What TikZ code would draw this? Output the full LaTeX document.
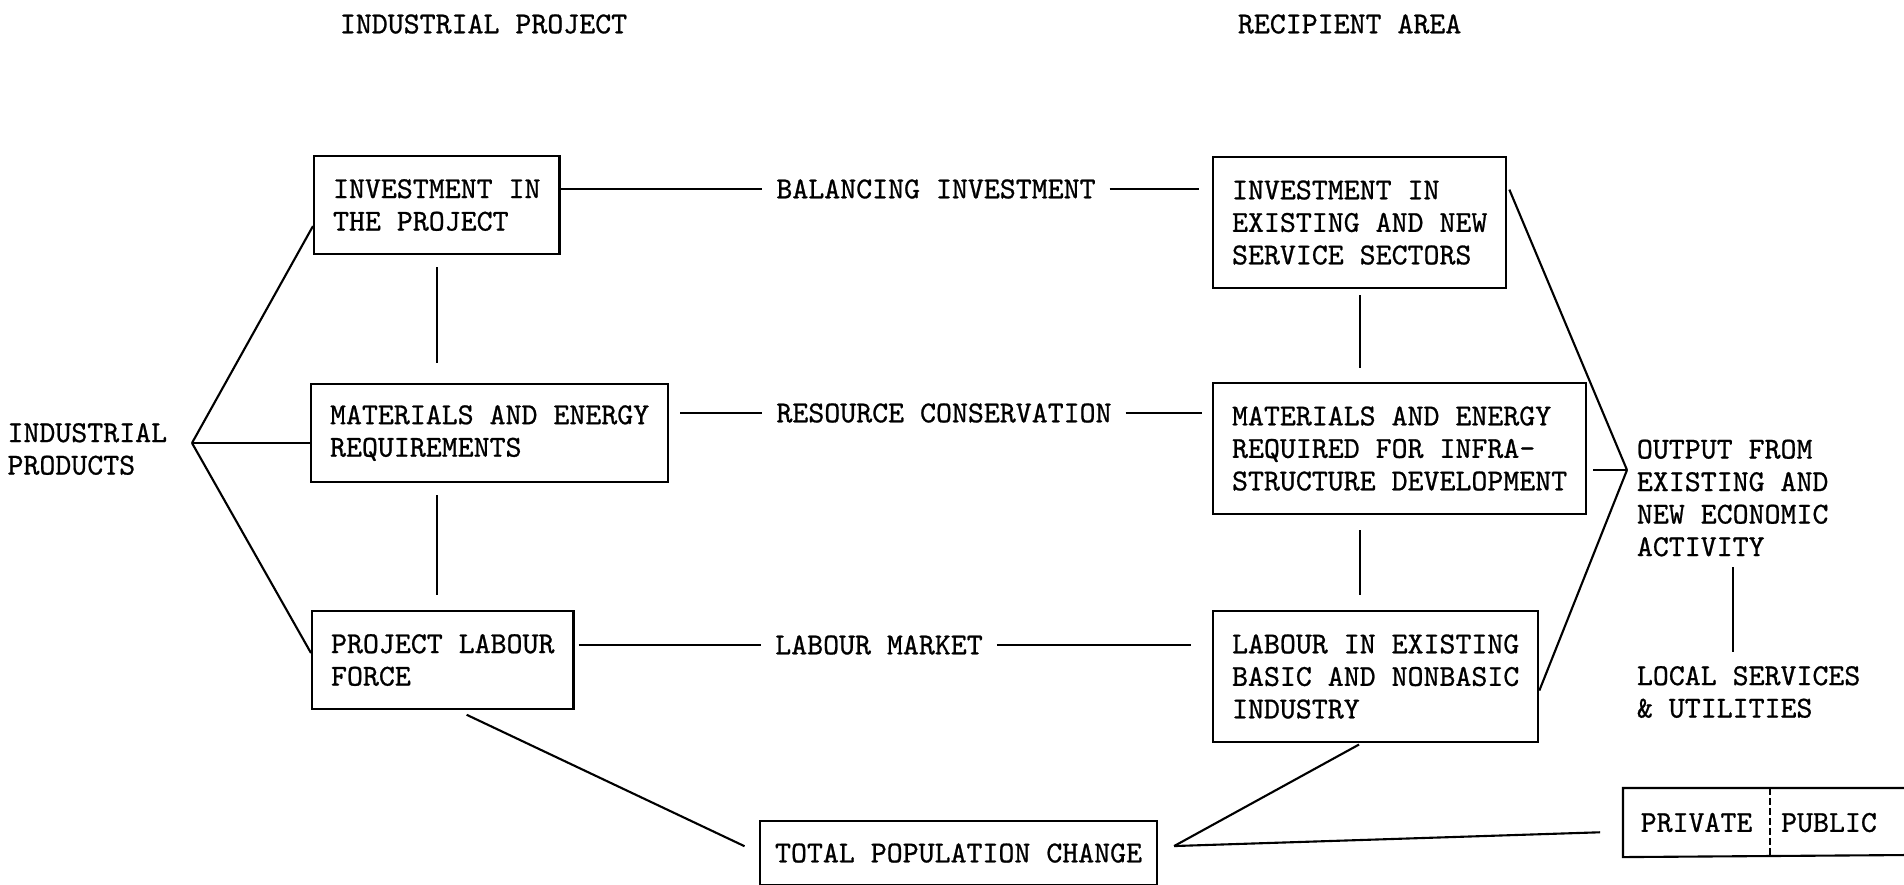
\documentclass[tikz,border=0pt]{standalone}
\usepackage{fontspec}
\setmonofont[FakeBold=0.8]{lmmono10-regular.otf}
\tikzset{every path/.style={line width=1.2pt}, every node/.style={font=\ttfamily\fontsize{17.3}{18.5}\selectfont}}

\begin{document}
\begin{tikzpicture}[x=0.02cm,y=-0.02cm,
   box/.style={draw, anchor=north west, align=left, inner xsep=0.38cm, minimum height=1.96cm},
   tallbox/.style={box, minimum height=2.62cm},
   lbl/.style={inner xsep=0.26cm, inner ysep=0pt}]
   \useasboundingbox (0,0) rectangle (1904,885);

   \node[anchor=west] (hp) at (333,24) {INDUSTRIAL PROJECT};
   \node[anchor=west] (hr) at (1231,24) {RECIPIENT AREA};

   \node[box] (ip) at (313,155) {INVESTMENT IN\\THE PROJECT};
   \node[box] (mp) at (310,383) {MATERIALS AND ENERGY\\REQUIREMENTS};
   \node[box] (lp) at (311,610) {PROJECT LABOUR\\FORCE};
   \node[tallbox] (ir) at (1212,156) {INVESTMENT IN\\EXISTING AND NEW\\SERVICE SECTORS};
   \node[tallbox] (mr) at (1212,382) {MATERIALS AND ENERGY\\REQUIRED FOR INFRA-\\STRUCTURE DEVELOPMENT};
   \node[tallbox] (lr) at (1212,610) {LABOUR IN EXISTING\\BASIC AND NONBASIC\\INDUSTRY};
   \node[draw, anchor=north west, inner xsep=0.3cm, minimum height=1.28cm] (pc) at (759,820) {TOTAL POPULATION CHANGE};

   \node[anchor=east, align=left] (ind) at (174,449) {INDUSTRIAL\\PRODUCTS};
   \coordinate (pj) at (192,443);
   \draw (pj) -- ([yshift=-0.42cm]ip.west);
   \draw (pj) -- (pj -| mp.west);
   \draw (pj) -- ([yshift=0.14cm]lp.west);

   \draw[shorten <=0.24cm, shorten >=0.4cm] (ip.south) -- (ip.south |- mp.north);
   \draw[shorten <=0.24cm, shorten >=0.3cm] (ip.south |- mp.south) -- (ip.south |- lp.north);
   \draw[shorten <=0.12cm, shorten >=0.28cm] (ir.south) -- (ir.south |- mr.north);
   \draw[shorten <=0.3cm, shorten >=0.3cm] (ir.south |- mr.south) -- (ir.south |- lr.north);

   \node[lbl] (bi) at (936,189) {BALANCING INVESTMENT};
   \draw (ip.east |- bi) -- (bi.west);
   \draw[shorten >=0.26cm] (bi.east) -- (ir.west |- bi);
   \node[lbl] (rc) at (944,413) {RESOURCE CONSERVATION};
   \draw[shorten <=0.22cm] (mp.east |- rc) -- (rc.west);
   \draw[shorten >=0.2cm] (rc.east) -- (mr.west |- rc);
   \node[lbl] (lm) at (879,645) {LABOUR MARKET};
   \draw[shorten <=0.08cm] (lp.east |- lm) -- (lm.west);
   \draw[shorten >=0.42cm] (lm.east) -- (lr.west |- lm);

   \node[anchor=west, align=left] (op) at (1630,498) {OUTPUT FROM\\EXISTING AND\\NEW ECONOMIC\\ACTIVITY};
   \node[anchor=west, align=left] (ls) at (1630,692) {LOCAL SERVICES\\\&{} UTILITIES};
   \coordinate (oj) at (1627,470);
   \draw[shorten >=0.1cm] (oj) -- ([yshift=-0.58cm]ir.north east);
   \draw[shorten >=0.12cm] (oj) -- (oj -| mr.east);
   \draw (oj) -- ([yshift=-0.28cm]lr.east);
   \draw[shorten <=0.08cm, shorten >=0.14cm] (op.south) -- (op.south |- ls.north);

   \coordinate (cj) at ([xshift=0.32cm,yshift=0.14cm]pc.east);
   \draw[shorten <=0.22cm, shorten >=0.32cm] ([xshift=0.28cm]lp.south) -- (pc.west);
   \draw[shorten <=0.06cm] ([xshift=-0.28cm]lr.south) -- (cj);

   \node[anchor=north west, minimum width=2.9cm, minimum height=1.34cm, inner sep=0pt] (pv) at (1623,788) {PRIVATE};
   \node[anchor=west, inner xsep=0.2cm] (pb) at (pv.east) {PUBLIC};
   \draw (1910,788) -- (pv.north west) -- (pv.south west) -- (1910,855);
   \draw[line width=1pt, dash pattern=on 0.14cm off 0.06cm] (pv.north east) -- (pv.south east);
   \draw[shorten >=0.46cm] (cj) -- ([yshift=-0.18cm]pv.west);
\end{tikzpicture}
\end{document}
